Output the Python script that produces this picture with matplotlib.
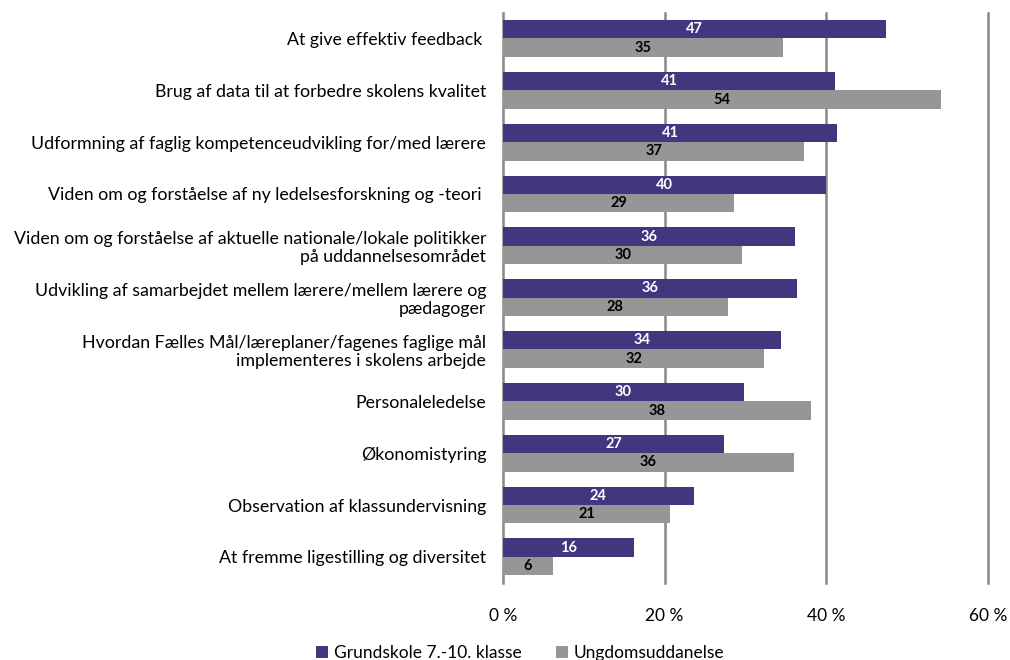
import matplotlib.pyplot as plt
import numpy as np

categories = [
    'At give effektiv feedback ',
    'Brug af data til at forbedre skolens kvalitet',
    'Udformning af faglig kompetenceudvikling for/med lærere',
    'Viden om og forståelse af ny ledelsesforskning og -teori ',
    'Viden om og forståelse af aktuelle nationale/lokale politikker\npå uddannelsesområdet',
    'Udvikling af samarbejdet mellem lærere/mellem lærere og\npædagoger',
    'Hvordan Fælles Mål/læreplaner/fagenes faglige mål\nimplementeres i skolens arbejde',
    'Personaleledelse',
    'Økonomistyring',
    'Observation af klassundervisning',
    'At fremme ligestilling og diversitet',
]
grundskole = [47.4, 41.1, 41.3, 39.9, 36.1, 36.4, 34.4, 29.8, 27.4, 23.6, 16.2]
ungdom = [34.7, 54.2, 37.3, 28.6, 29.6, 27.8, 32.3, 38.1, 36.0, 20.7, 6.2]
series_names = ['Grundskole 7.-10. klasse', 'Ungdomsuddanelse']
xticks = [0, 20, 40, 60]

plt.rcParams['font.family'] = ['Lato', 'DejaVu Sans']

purple = '#43367f'
grey = '#969696'

fig = plt.figure(figsize=(10.1, 6.6), dpi=100)
ax = fig.add_axes([0.498, 0.117, 0.4802, 0.864])

y = np.arange(len(categories))
h = 0.355
b1 = ax.barh(y - h / 2, grundskole, height=h, color=purple, label=series_names[0], zorder=3)
b2 = ax.barh(y + h / 2, ungdom, height=h, color=grey, label=series_names[1], zorder=3)

# værdier midt i søjlerne
for rect, v in zip(b1, grundskole):
    ax.text(rect.get_width() / 2, rect.get_y() + rect.get_height() / 2, '%.0f' % v,
            ha='center', va='center', color='white', fontsize=10.5, fontweight='bold', zorder=4)
for rect, v in zip(b2, ungdom):
    ax.text(rect.get_width() / 2, rect.get_y() + rect.get_height() / 2, '%.0f' % v,
            ha='center', va='center', color='black', fontsize=10.5, fontweight='bold', zorder=4)

ax.set_ylim(len(categories) - 0.5, -0.5)
ax.set_xlim(0, 60)
ax.set_yticks(y)
ax.set_yticklabels(categories, fontsize=12.8, linespacing=1.15)
ax.set_xticks(xticks)
ax.set_xticklabels(['%d %%' % t for t in xticks], fontsize=12.5)
ax.tick_params(axis='both', length=0)
ax.tick_params(axis='y', pad=12)
ax.tick_params(axis='x', pad=18)
for s in ax.spines.values():
    s.set_visible(False)
ax.grid(axis='x', color='#888888', linewidth=1.8, zorder=0)
ax.set_axisbelow(True)
for gl in ax.get_xgridlines():
    gl.set_clip_on(False)

fig.legend(handles=[b1, b2], loc='lower center', bbox_to_anchor=(0.515, -0.025), ncol=2,
           frameon=False, fontsize=12.5, handlelength=0.7, handleheight=0.7,
           handletextpad=0.3, columnspacing=2.0)

fig.savefig('out.png', dpi=100)
